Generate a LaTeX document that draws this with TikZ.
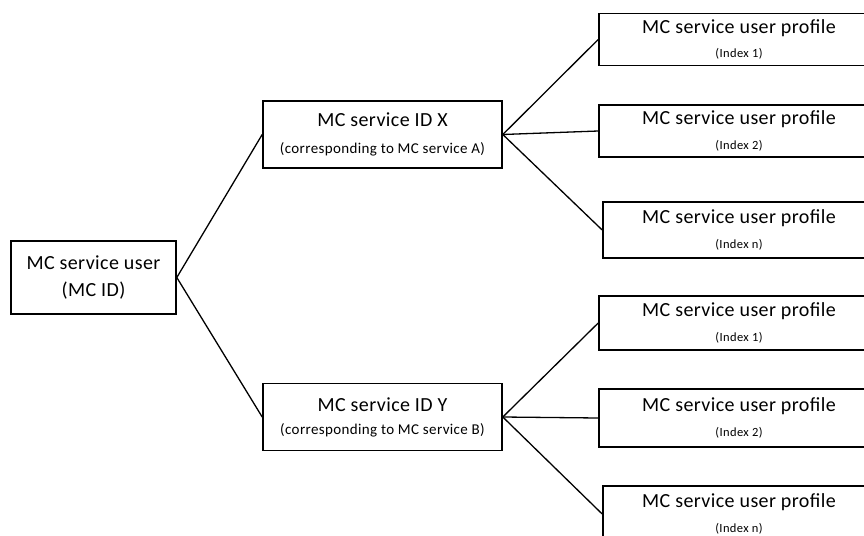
\documentclass[tikz,border=0pt]{standalone}
\usepackage{fontspec}
\setmainfont{Carlito}
\begin{document}
\begin{tikzpicture}[x=1pt,y=-1pt,
  box/.style={draw=black,line width=1.6pt,rectangle,inner sep=0pt,align=center},
  conn/.style={draw=black,line width=1.3pt},
]
\useasboundingbox (0,0) rectangle (864,535);
\newcommand{\tl}[1]{{\fontsize{20}{22}\selectfont\addfontfeature{LetterSpace=2}#1}}
\newcommand{\sbs}[1]{{\fontsize{12.5}{14}\selectfont\addfontfeature{LetterSpace=3}#1}}
\newcommand{\sbm}[1]{{\fontsize{15}{17}\selectfont\addfontfeature{LetterSpace=2.5}#1}}
% root
\node[box,minimum width=165pt,minimum height=73pt] (A) at (93.5,277.5)
  {\tl{MC service user}\\[12pt]\tl{(MC ID)}};
% service IDs
\node[box,minimum width=239pt,minimum height=67pt] (X) at (382.5,134.5)
  {\tl{MC service ID X}\\[15pt]\sbm{(corresponding to MC service A)}};
\node[box,minimum width=239pt,minimum height=67pt] (Y) at (382.5,417)
  {\tl{MC service ID Y}\\[11pt]\sbm{(corresponding to MC service B)}};
% profiles
\node[box,minimum width=280pt,minimum height=52pt] (P1) at (739,39.5)
  {\tl{MC service user profile}\\[11pt]\sbs{(Index 1)}};
\node[box,minimum width=280pt,minimum height=52pt] (P2) at (739,131)
  {\tl{MC service user profile}\\[11pt]\sbs{(Index 2)}};
\node[box,minimum width=272pt,minimum height=56pt] (P3) at (739,230)
  {\tl{MC service user profile}\\[11pt]\sbs{(Index n)}};
\node[box,minimum width=280pt,minimum height=54pt] (P4) at (739,323)
  {\tl{MC service user profile}\\[11pt]\sbs{(Index 1)}};
\node[box,minimum width=280pt,minimum height=58pt] (P5) at (739,418)
  {\tl{MC service user profile}\\[11pt]\sbs{(Index 2)}};
\node[box,minimum width=272pt,minimum height=56pt] (P6) at (739,514)
  {\tl{MC service user profile}\\[11pt]\sbs{(Index n)}};
% connectors
\draw[conn] (A.east) -- (X.west);
\draw[conn] (A.east) -- (Y.west);
\draw[conn] (X.east) -- (P1.west);
\draw[conn] (X.east) -- (P2.west);
\draw[conn] (X.east) -- (P3.west);
\draw[conn] (Y.east) -- (P4.west);
\draw[conn] (Y.east) -- (P5.west);
\draw[conn] (Y.east) -- (P6.west);
\end{tikzpicture}
\end{document}
